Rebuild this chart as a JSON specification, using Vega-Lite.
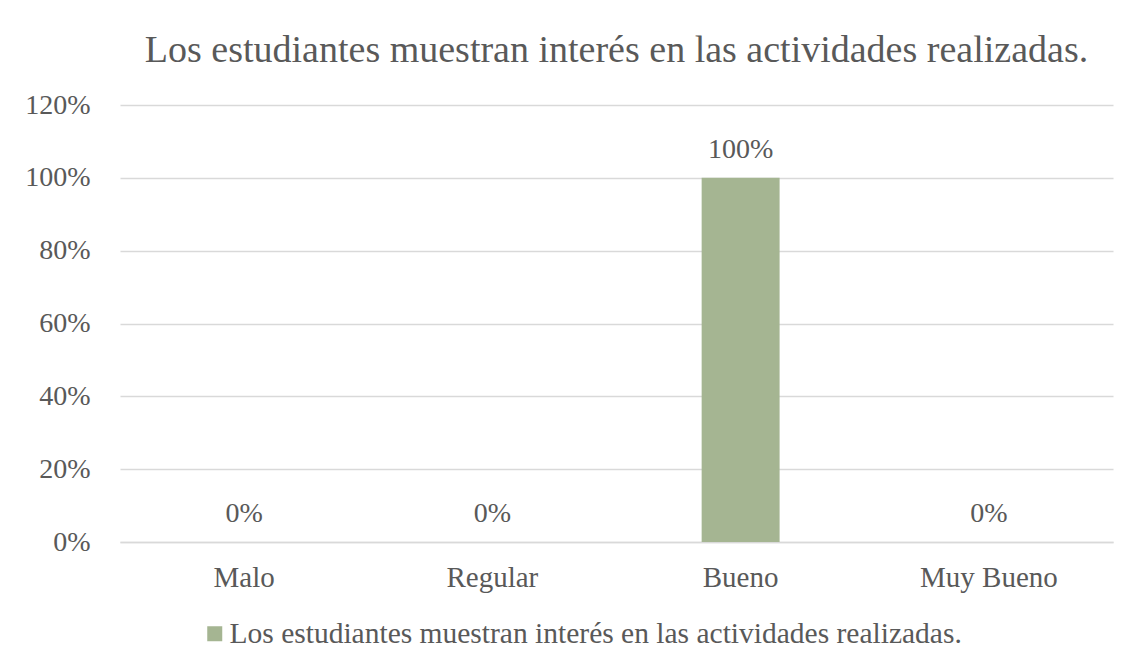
{
  "$schema": "https://vega.github.io/schema/vega-lite/v6.json",
  "autosize": "none",
  "width": 993,
  "height": 437,
  "padding": {"left": 120, "top": 105, "right": 20, "bottom": 124},
  "background": "white",
  "config": {
    "font": "Liberation Serif",
    "view": {"stroke": null},
    "axis": {"labelFont": "Liberation Serif", "labelColor": "#595959", "labelFontSize": 28, "titleFont": "Liberation Serif"},
    "legend": {"labelFont": "Liberation Serif", "labelColor": "#595959", "labelFontSize": 29.5}
  },
  "title": {
    "text": "Los estudiantes muestran interés en las actividades realizadas.",
    "font": "Liberation Serif",
    "fontSize": 38,
    "fontWeight": "normal",
    "color": "#595959",
    "anchor": "middle",
    "offset": 21
  },
  "data": {
    "values": [
      {"categoria": "Malo", "valor": 0, "serie": "Los estudiantes muestran interés en las actividades realizadas."},
      {"categoria": "Regular", "valor": 0, "serie": "Los estudiantes muestran interés en las actividades realizadas."},
      {"categoria": "Bueno", "valor": 1, "serie": "Los estudiantes muestran interés en las actividades realizadas."},
      {"categoria": "Muy Bueno", "valor": 0, "serie": "Los estudiantes muestran interés en las actividades realizadas."}
    ]
  },
  "encoding": {
    "x": {
      "field": "categoria",
      "type": "nominal",
      "sort": null,
      "scale": {"paddingInner": 0.686, "paddingOuter": 0.343},
      "axis": {"title": null, "labelAngle": 0, "ticks": false, "domain": true, "domainColor": "#d9d9d9", "domainWidth": 1.5, "labelPadding": 35, "labelBaseline": "middle", "labelFontSize": 29}
    },
    "y": {
      "field": "valor",
      "type": "quantitative",
      "scale": {"domain": [0, 1.2]},
      "axis": {"title": null, "format": ".0%", "values": [0, 0.2, 0.4, 0.6, 0.8, 1, 1.2], "ticks": false, "domain": false, "gridColor": "#d9d9d9", "gridWidth": 1.5, "labelPadding": 30}
    }
  },
  "layer": [
    {
      "mark": {"type": "bar", "color": "#a5b592"},
      "encoding": {
        "color": {
          "field": "serie",
          "type": "nominal",
          "scale": {"range": ["#a5b592"]},
          "legend": {"title": null, "orient": "none", "legendX": 80, "legendY": 514, "symbolType": "square", "symbolSize": 225, "symbolStrokeWidth": 0, "labelLimit": 1000, "labelOffset": 0}
        }
      }
    },
    {
      "mark": {"type": "text", "dy": -28, "baseline": "middle", "fontSize": 28, "color": "#595959", "font": "Liberation Serif"},
      "encoding": {
        "text": {"field": "valor", "type": "quantitative", "format": ".0%"}
      }
    }
  ]
}
